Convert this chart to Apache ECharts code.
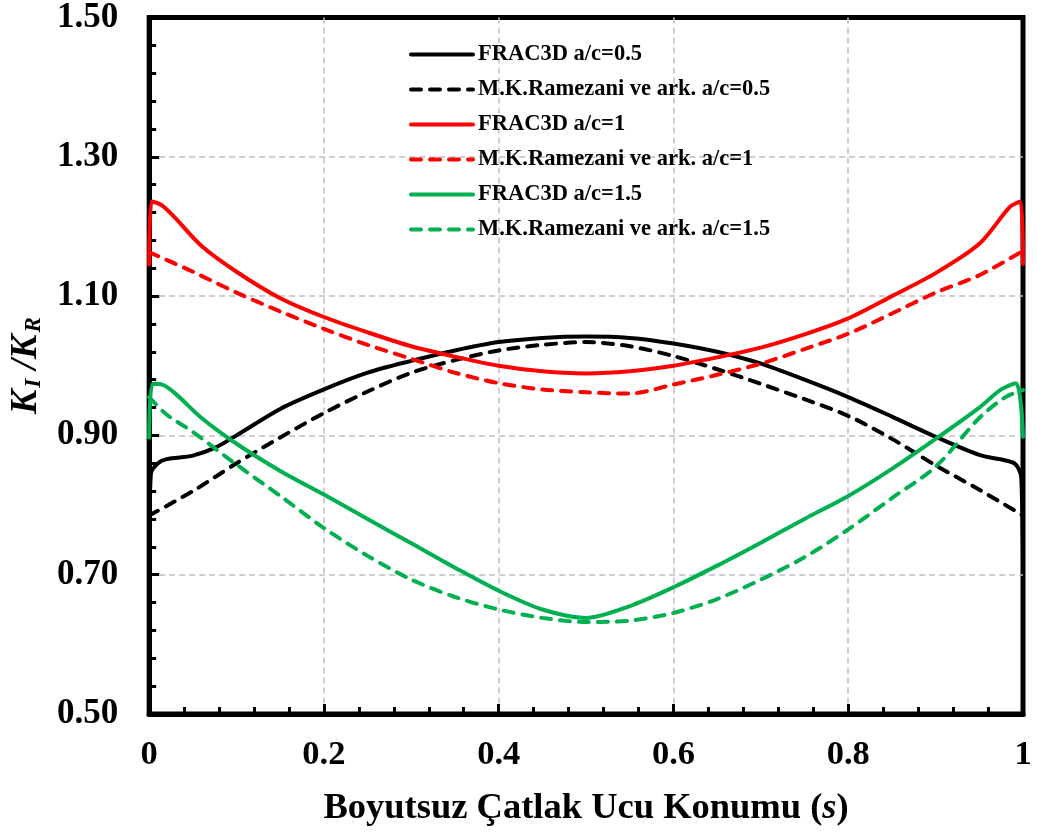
<!DOCTYPE html>
<html>
<head>
<meta charset="utf-8">
<script src="https://cdn.jsdelivr.net/npm/echarts@6/dist/echarts.min.js"></script>
<style>
  html, body { margin: 0; padding: 0; background: #fff; }
  #chart { width: 1037px; height: 832px; }
</style>
</head>
<body>
<div id="chart"></div>
<script>
// s positions and K_I/K_R values
const frac05 = [
  [0, 0.72], [0.002, 0.845], [0.01, 0.86], [0.02, 0.866], [0.05, 0.871], [0.075, 0.882],
  [0.1, 0.90], [0.15, 0.938], [0.2, 0.966], [0.25, 0.99], [0.3, 1.007], [0.35, 1.022],
  [0.4, 1.034], [0.45, 1.04], [0.5, 1.042], [0.55, 1.04], [0.6, 1.032], [0.65, 1.02],
  [0.7, 1.003], [0.75, 0.98], [0.8, 0.955], [0.85, 0.927], [0.9, 0.898], [0.95, 0.872],
  [0.98, 0.864], [0.99, 0.86], [0.995, 0.852], [0.998, 0.84], [1, 0.72]
]
const rame05 = [
  [0, 0.785], [0.05, 0.82], [0.1, 0.86], [0.15, 0.897], [0.2, 0.932], [0.25, 0.963],
  [0.3, 0.99], [0.35, 1.008], [0.4, 1.022], [0.45, 1.03], [0.5, 1.034], [0.55, 1.028],
  [0.6, 1.014], [0.65, 0.995], [0.7, 0.974], [0.75, 0.952], [0.8, 0.928], [0.85, 0.895],
  [0.9, 0.857], [0.95, 0.822], [1, 0.785]
]
const frac1 = [
  [0, 1.145], [0.003, 1.236], [0.015, 1.23], [0.03, 1.212], [0.06, 1.172], [0.1, 1.135],
  [0.15, 1.097], [0.2, 1.07], [0.25, 1.048], [0.3, 1.028], [0.35, 1.013], [0.4, 1.0],
  [0.45, 0.992], [0.5, 0.989], [0.55, 0.992], [0.6, 1.0], [0.65, 1.012], [0.7, 1.026],
  [0.75, 1.045], [0.8, 1.068], [0.85, 1.1], [0.9, 1.133], [0.95, 1.175], [0.985, 1.228],
  [0.997, 1.236], [1, 1.146]
]
const rame1 = [
  [0, 1.163], [0.05, 1.135], [0.1, 1.105], [0.15, 1.078], [0.2, 1.053], [0.25, 1.03],
  [0.3, 1.01], [0.35, 0.99], [0.4, 0.975], [0.45, 0.966], [0.5, 0.962], [0.55, 0.96],
  [0.6, 0.973], [0.65, 0.987], [0.7, 1.003], [0.75, 1.024], [0.8, 1.046], [0.85, 1.075],
  [0.9, 1.105], [0.95, 1.13], [1, 1.165]
]
const frac15 = [
  [0, 0.897], [0.004, 0.974], [0.015, 0.973], [0.03, 0.96], [0.06, 0.925], [0.1, 0.888],
  [0.15, 0.849], [0.2, 0.815], [0.25, 0.78], [0.3, 0.745], [0.35, 0.71], [0.4, 0.677],
  [0.45, 0.65], [0.5, 0.638], [0.55, 0.655], [0.6, 0.682], [0.65, 0.713], [0.7, 0.746],
  [0.75, 0.78], [0.8, 0.813], [0.85, 0.852], [0.9, 0.895], [0.95, 0.94], [0.975, 0.966],
  [0.992, 0.975], [1, 0.898]
]
const rame15 = [
  [0, 0.955], [0.02, 0.93], [0.05, 0.905], [0.1, 0.858], [0.15, 0.813], [0.2, 0.767],
  [0.25, 0.727], [0.3, 0.693], [0.35, 0.668], [0.4, 0.65], [0.45, 0.638], [0.5, 0.632],
  [0.55, 0.634], [0.6, 0.645], [0.65, 0.665], [0.7, 0.693], [0.75, 0.725], [0.8, 0.765],
  [0.85, 0.81], [0.9, 0.855], [0.95, 0.925], [0.98, 0.955], [1, 0.965]
]

const seriesNames = [
  'FRAC3D a/c=0.5', 'M.K.Ramezani ve ark. a/c=0.5',
  'FRAC3D a/c=1', 'M.K.Ramezani ve ark. a/c=1',
  'FRAC3D a/c=1.5', 'M.K.Ramezani ve ark. a/c=1.5'
]
const seriesData = [frac05, rame05, frac1, rame1, frac15, rame15]
const seriesColors = ['#000000', '#000000', '#ff0000', '#ff0000', '#00b050', '#00b050']

const FONT = 'Liberation Serif'

const chart = echarts.init(document.getElementById('chart'))

const series = seriesData.map((data, i) => ({
  name: seriesNames[i],
  type: 'line',
  data: data,
  showSymbol: false,
  symbol: 'none',
  smooth: 0.3,
  lineStyle: {
    color: seriesColors[i],
    width: 4,
    type: i % 2 ? [10, 9] : 'solid',
    cap: 'round'
  },
  itemStyle: { color: seriesColors[i] },
  z: 3
}))

const option = {
  animation: false,
  grid: {
    left: 148,
    right: 14,
    top: 17,
    bottom: 116,
    show: true,
    borderColor: '#000',
    borderWidth: 5
  },
  legend: {
    orient: 'vertical',
    left: 404,
    top: 38,
    itemWidth: 62,
    itemHeight: 14,
    itemGap: 12,
    itemStyle: { opacity: 0 },
    lineStyle: { width: 4 },
    textStyle: {
      fontFamily: FONT,
      fontWeight: 'bold',
      fontSize: 22.5,
      color: '#000'
    },
    data: seriesNames
  },
  xAxis: {
    type: 'value',
    min: 0,
    max: 1,
    interval: 0.2,
    name: 'Boyutsuz Çatlak Ucu Konumu ({i|s})',
    nameLocation: 'middle',
    nameGap: 76,
    nameTextStyle: {
      fontFamily: FONT,
      fontWeight: 'bold',
      fontSize: 36.5,
      color: '#000',
      rich: {
        i: { fontFamily: FONT, fontWeight: 'bold', fontStyle: 'italic', fontSize: 36.5, color: '#000' }
      }
    },
    axisLine: { lineStyle: { color: '#000', width: 5 } },
    axisTick: { inside: true, length: 10, lineStyle: { color: '#000', width: 3 } },
    minorTick: { show: true, splitNumber: 5, length: 7, lineStyle: { color: '#000', width: 3 } },
    axisLabel: {
      margin: 24,
      fontFamily: FONT,
      fontWeight: 'bold',
      fontSize: 34.5,
      color: '#000',
      formatter: v => String(+v.toFixed(1))
    },
    splitLine: {
      show: true,
      showMinLine: false,
      showMaxLine: false,
      lineStyle: { color: '#bfbfbf', width: 1.5, type: [6, 4] }
    }
  },
  yAxis: {
    type: 'value',
    min: 0.5,
    max: 1.5,
    interval: 0.2,
    name: '{k|K}{s|I}{k| /K}{s|R}',
    nameLocation: 'middle',
    nameRotate: 90,
    nameGap: 98,
    nameTextStyle: {
      rich: {
        k: { fontFamily: FONT, fontWeight: 'bold', fontStyle: 'italic', fontSize: 37, color: '#000' },
        s: { fontFamily: FONT, fontWeight: 'bold', fontStyle: 'italic', fontSize: 23, color: '#000', padding: [16, 0, 0, 2] }
      }
    },
    axisLine: { lineStyle: { color: '#000', width: 5 } },
    axisTick: { inside: true, length: 10, lineStyle: { color: '#000', width: 3 } },
    minorTick: { show: true, splitNumber: 5, length: 7, lineStyle: { color: '#000', width: 3 } },
    axisLabel: {
      margin: 31,
      fontFamily: FONT,
      fontWeight: 'bold',
      fontSize: 35,
      color: '#000',
      formatter: v => v.toFixed(2)
    },
    splitLine: {
      show: true,
      showMinLine: false,
      showMaxLine: false,
      lineStyle: { color: '#bfbfbf', width: 1.5, type: [6, 4] }
    }
  },
  series: series
}

chart.setOption(option)
</script>
</body>
</html>
